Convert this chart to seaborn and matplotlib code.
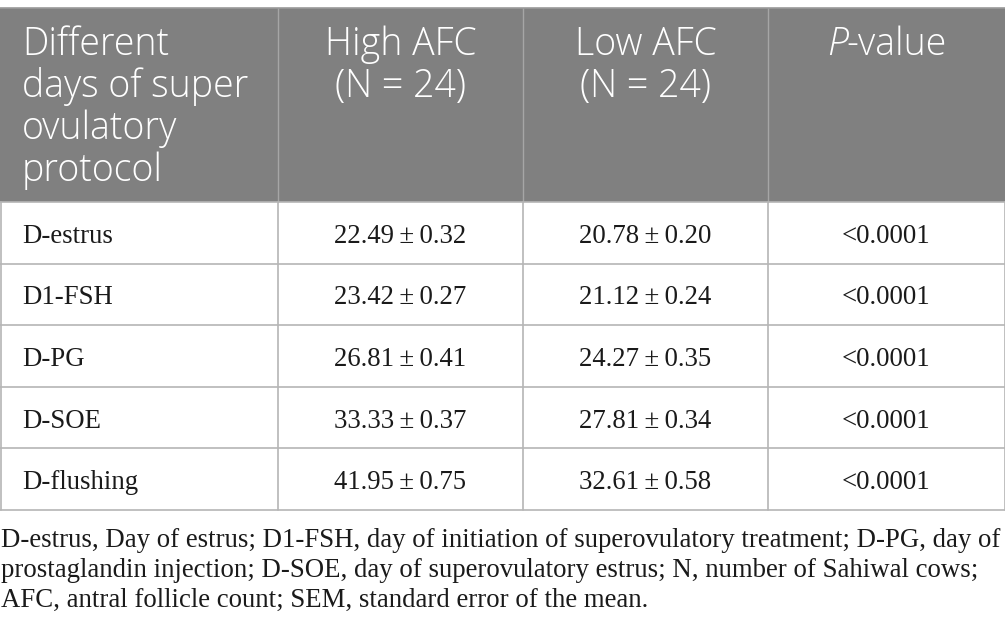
import matplotlib
matplotlib.use("Agg")
import matplotlib.pyplot as plt
from matplotlib.patches import Rectangle
import seaborn as sns

# table content
header_first = ["Different", "days of super", "ovulatory", "protocol"]
header_high = ["High AFC", "(N = 24)"]
header_low = ["Low AFC", "(N = 24)"]
days = ["D-estrus", "D1-FSH", "D-PG", "D-SOE", "D-flushing"]
high_mean = [22.49, 23.42, 26.81, 33.33, 41.95]
high_sem = [0.32, 0.27, 0.41, 0.37, 0.75]
low_mean = [20.78, 21.12, 24.27, 27.81, 32.61]
low_sem = [0.20, 0.24, 0.35, 0.34, 0.58]
p_values = ["<0.0001"] * 5
footnote = [
    "D-estrus, Day of estrus; D1-FSH, day of initiation of superovulatory treatment; D-PG, day of",
    "prostaglandin injection; D-SOE, day of superovulatory estrus; N, number of Sahiwal cows;",
    "AFC, antral follicle count; SEM, standard error of the mean.",
]

sns.set_theme(style="white")

W, H = 1005, 640
fig = plt.figure(figsize=(W / 100, H / 100), dpi=100)
ax = fig.add_axes([0, 0, 1, 1])
ax.set_xlim(0, W)
ax.set_ylim(H, 0)
ax.axis("off")

col_x = [0.5, 278, 523, 768, 1004.5]
top, head_bot = 8, 202
row_h = 61.5
bot = head_bot + row_h * len(days)
gray = "#808080"
line_c = "#b5b5b5"
sans = "Open Sans"
serif = "Liberation Serif"
ink = "#1a1a1a"

# header block
ax.add_patch(Rectangle((0, top), W, head_bot - top, color=gray, lw=0))
for x in col_x[1:-1]:
    ax.plot([x, x], [top, head_bot], color="#a6a6a6", lw=1)
ax.plot([0, W], [top, top], color="#9a9a9a", lw=1.2)

hs = 27
hw = "light"
for i, t in enumerate(header_first):
    ax.text(22, 55 + 42 * i, t, color="white", fontsize=hs, family=sans,
            fontweight=hw, va="baseline", ha="left")
for cx, lines in [((col_x[1] + col_x[2]) / 2, header_high),
                  ((col_x[2] + col_x[3]) / 2, header_low)]:
    for i, t in enumerate(lines):
        ax.text(cx, 55 + 42 * i, t, color="white", fontsize=hs, family=sans,
                fontweight=hw, va="baseline", ha="center")
# "P-value" with an italic P
pc = (col_x[3] + col_x[4]) / 2
ax.text(pc - 38, 55, "P", color="white", fontsize=hs, family=sans, style="italic",
        fontweight=hw, va="baseline", ha="right")
ax.text(pc - 40, 55, "-value", color="white", fontsize=hs, family=sans,
        fontweight=hw, va="baseline", ha="left")

# body grid
for k in range(len(days) + 1):
    y = head_bot + row_h * k
    ax.plot([0, W], [y, y], color=line_c, lw=1.2)
for x in col_x:
    ax.plot([x, x], [head_bot, bot], color=line_c, lw=1.2)

bs = 19.3
pm = "\u2009\u00b1\u2009"
for r in range(len(days)):
    yb = head_bot + row_h * r + 41
    ax.text(22, yb, days[r], fontsize=bs, family=serif, color=ink,
            va="baseline", ha="left")
    ax.text((col_x[1] + col_x[2]) / 2, yb, f"{high_mean[r]:.2f}{pm}{high_sem[r]:.2f}",
            fontsize=bs, family=serif, color=ink, va="baseline", ha="center")
    ax.text((col_x[2] + col_x[3]) / 2, yb, f"{low_mean[r]:.2f}{pm}{low_sem[r]:.2f}",
            fontsize=bs, family=serif, color=ink, va="baseline", ha="center")
    ax.text((col_x[3] + col_x[4]) / 2, yb, p_values[r], fontsize=bs, family=serif,
            color=ink, va="baseline", ha="center")

fs = 19.3
for i, t in enumerate(footnote):
    ax.text(1, 547 + 30 * i, t, fontsize=fs, family=serif, color=ink,
            va="baseline", ha="left")

fig.savefig("out.png", dpi=100)
